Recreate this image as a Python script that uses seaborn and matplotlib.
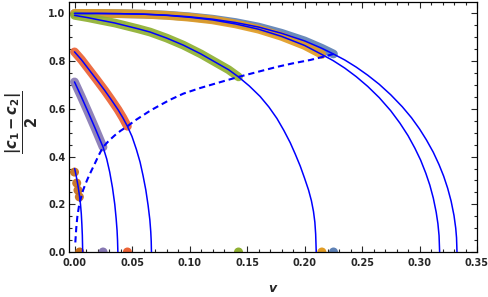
import matplotlib
matplotlib.use("Agg")
import matplotlib.pyplot as plt
import seaborn as sns
import pandas as pd
from matplotlib.ticker import MultipleLocator, FormatStrFormatter

# --- data ---
series_names = ["s1", "s2", "s3", "s4", "s5", "s6"]
series_colors = ["#5E81B5", "#E19C24", "#8FB032", "#EB6235", "#8778B3", "#C56E1A"]

# theory curves (solid blue)
blue_x = [0.0, 0.02, 0.04, 0.06, 0.08, 0.10, 0.12, 0.14, 0.16, 0.18, 0.20, 0.215, 0.2252,
          0.235, 0.245, 0.255, 0.265, 0.275, 0.285, 0.293, 0.300, 0.306, 0.312, 0.317,
          0.321, 0.3245, 0.3275, 0.330, 0.3315, 0.3322, 0.3326]
blue_y = [1.0, 1.0, 0.999, 0.997, 0.993, 0.986, 0.976, 0.962, 0.943, 0.917, 0.885, 0.854, 0.830,
          0.805, 0.775, 0.741, 0.703, 0.659, 0.609, 0.563, 0.516, 0.470, 0.418, 0.366,
          0.318, 0.267, 0.213, 0.153, 0.100, 0.060, 0.0]
orange_x = [0.0, 0.02, 0.04, 0.06, 0.08, 0.10, 0.12, 0.14, 0.16, 0.18, 0.20, 0.2151, 0.225,
            0.235, 0.245, 0.255, 0.265, 0.275, 0.283, 0.290, 0.296, 0.301, 0.3055, 0.309,
            0.312, 0.3145, 0.316, 0.317, 0.3175]
orange_y = [1.0, 1.0, 0.999, 0.997, 0.992, 0.984, 0.973, 0.956, 0.934, 0.904, 0.866, 0.828, 0.802,
            0.771, 0.735, 0.694, 0.647, 0.592, 0.540, 0.488, 0.435, 0.385, 0.330, 0.280,
            0.226, 0.167, 0.119, 0.069, 0.0]
green_x = [0.0, 0.012, 0.0233, 0.035, 0.045, 0.055, 0.0657, 0.08, 0.0947, 0.11, 0.1238, 0.134,
           0.1426, 0.152, 0.1614, 0.169, 0.176, 0.182, 0.1876, 0.192, 0.1963, 0.200, 0.2035,
           0.206, 0.2078, 0.209, 0.2097, 0.2102]
green_y = [0.992, 0.982, 0.971, 0.960, 0.948, 0.936, 0.922, 0.897, 0.867, 0.830, 0.792, 0.764,
           0.734, 0.696, 0.652, 0.608, 0.560, 0.510, 0.458, 0.410, 0.360, 0.310, 0.260,
           0.215, 0.170, 0.125, 0.075, 0.0]
red_x = [0.0, 0.006, 0.0117, 0.019, 0.0263, 0.032, 0.0379, 0.042, 0.046, 0.050, 0.0538, 0.057,
         0.0596, 0.062, 0.064, 0.0655, 0.0663, 0.0667, 0.0669]
red_y = [0.839, 0.806, 0.770, 0.724, 0.677, 0.638, 0.596, 0.563, 0.527, 0.484, 0.430, 0.377,
         0.320, 0.260, 0.195, 0.135, 0.085, 0.045, 0.0]
purple_x = [0.0, 0.006, 0.0117, 0.018, 0.0248, 0.028, 0.0306, 0.033, 0.035, 0.0362, 0.037,
            0.0374, 0.0377]
purple_y = [0.713, 0.650, 0.588, 0.518, 0.440, 0.390, 0.335, 0.270, 0.200, 0.140, 0.090,
            0.050, 0.0]
brown_x = [0.0001, 0.0015, 0.003, 0.0042, 0.0052, 0.0059, 0.0064, 0.0068, 0.0071]
brown_y = [0.350, 0.318, 0.278, 0.240, 0.200, 0.160, 0.115, 0.070, 0.0]

# simulated points (thick bands) run up to the dashed boundary
band_end_x = [0.2252, 0.2151, 0.1426, 0.046, 0.0248]

# dashed boundary curve
dash_x = [0.0007, 0.0015, 0.0025, 0.0038, 0.0055, 0.0075, 0.0095, 0.0117, 0.0146, 0.0176,
          0.021, 0.0248, 0.030, 0.035, 0.040, 0.046, 0.0525, 0.0596, 0.066, 0.0727, 0.083,
          0.0947, 0.109, 0.1238, 0.1426, 0.16, 0.176, 0.19, 0.205, 0.2151, 0.2252]
dash_y = [0.04, 0.10, 0.15, 0.19, 0.225, 0.26, 0.285, 0.31, 0.34, 0.37,
          0.405, 0.44, 0.467, 0.489, 0.508, 0.527, 0.551, 0.573, 0.593, 0.611, 0.638,
          0.664, 0.687, 0.708, 0.734, 0.756, 0.776, 0.791, 0.805, 0.817, 0.830]

# isolated points of the sixth series and the points on the v axis
brown_dot_x = [0.0, 0.0019, 0.003, 0.0042]
brown_dot_y = [0.335, 0.289, 0.259, 0.231]
axis_dot_x = [0.2252, 0.2151, 0.1426, 0.046, 0.0248, 0.0045]

curves = [(blue_x, blue_y), (orange_x, orange_y), (green_x, green_y),
          (red_x, red_y), (purple_x, purple_y), (brown_x, brown_y)]

sns.set_style("ticks")
plt.rcParams["font.family"] = ["DejaVu Sans"]
plt.rcParams["mathtext.fontset"] = "dejavusans"

fig = plt.figure(figsize=(4.89, 2.97), dpi=100)
ax = fig.add_axes([69 / 489, 45 / 297, 408 / 489, 250 / 297])

# bands of simulated points
for i in range(5):
    cx, cy = curves[i]
    df = pd.DataFrame({"v": cx, "d": cy})
    seg = df[df["v"] <= band_end_x[i] + 1e-9]
    sns.lineplot(data=seg, x="v", y="d", color=series_colors[i], linewidth=6.3,
                 alpha=0.92, sort=False, estimator=None, ax=ax,
                 solid_capstyle="round", zorder=2)

sns.scatterplot(x=brown_dot_x, y=brown_dot_y, color=series_colors[5], s=42,
                edgecolor="none", alpha=0.92, ax=ax, zorder=2)
dots = pd.DataFrame({"v": axis_dot_x, "d": [0.0] * 6, "s": series_names})
sns.scatterplot(data=dots, x="v", y="d", hue="s", palette=series_colors, s=42,
                edgecolor="none", ax=ax, legend=False, zorder=2)

# theory curves
for cx, cy in curves:
    sns.lineplot(x=cx, y=cy, color="#0000FF", linewidth=1.1, sort=False,
                 estimator=None, ax=ax, zorder=3)
sns.lineplot(x=dash_x, y=dash_y, color="#0000FF", linewidth=1.5, sort=False,
             estimator=None, ax=ax, zorder=3, dashes=False, linestyle=(0, (3.0, 1.9)))

ax.set_xlim(-0.0048, 0.35)
ax.set_ylim(0, 1.048)
ax.xaxis.set_major_locator(MultipleLocator(0.05))
ax.xaxis.set_minor_locator(MultipleLocator(0.01))
ax.yaxis.set_major_locator(MultipleLocator(0.2))
ax.yaxis.set_minor_locator(MultipleLocator(0.05))
ax.xaxis.set_major_formatter(FormatStrFormatter("%.2f"))
ax.yaxis.set_major_formatter(FormatStrFormatter("%.1f"))
ax.tick_params(which="both", direction="in", top=True, right=True, width=0.8,
               labelsize=7)
ax.tick_params(which="major", length=4)
ax.tick_params(which="minor", length=2.5)
ax.tick_params(axis="x", which="major", pad=4.5)
ax.tick_params(axis="y", which="major", pad=2.5)
for lab in ax.get_xticklabels() + ax.get_yticklabels():
    lab.set_fontweight("bold")
for sp in ax.spines.values():
    sp.set_visible(True)
    sp.set_linewidth(0.9)
    sp.set_color("black")

ax.set_xlabel(r"$\mathbfit{v}$", fontsize=9)
ax.xaxis.set_label_coords(0.5, -0.12)
ax.set_ylabel(r"$\mathbf{\dfrac{|\mathbfit{c}_1 - \mathbfit{c}_2|}{2}}$", fontsize=10.5)
ax.yaxis.set_label_coords(-0.072, 0.52)

fig.savefig("out.png", dpi=100)
